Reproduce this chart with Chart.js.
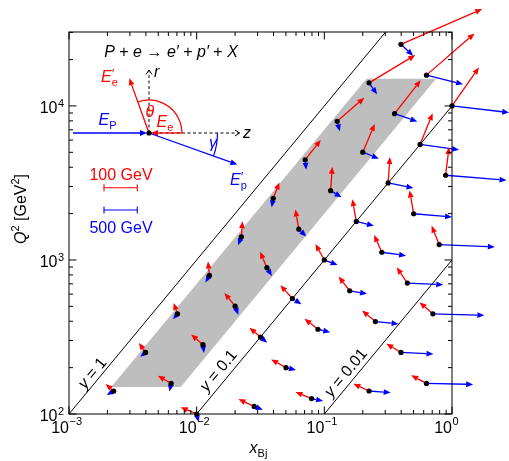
<!DOCTYPE html>
<html>
<head>
<meta charset="utf-8">
<script src="https://cdn.jsdelivr.net/npm/chart.js@4.4.0/dist/chart.umd.min.js"></script>
<style>
  html, body { margin: 0; padding: 0; background: #fff; }
  #plot { display: block; }
</style>
</head>
<body>
<canvas id="plot" width="509" height="461"></canvas>
<script>
// kinematic points, one row per line of constant y
const xBj = [
  0.00224, 0.00398, 0.00708, 0.0126, 0.0224, 0.0398, 0.0708, 0.126, 0.224, 0.398,
  0.00631, 0.0112, 0.0200, 0.0355, 0.0631, 0.112, 0.200, 0.355, 0.631,
  0.0100, 0.0316, 0.0562, 0.100, 0.178, 0.316, 0.562, 1.00,
  0.0282, 0.0501, 0.0891, 0.158, 0.282, 0.501, 0.891,
  0.0794, 0.251, 0.447, 0.794,
  0.224, 0.398, 0.708,
  0.631
];
const q2 = [
  141, 251, 447, 794, 1413, 2512, 4467, 7943, 14125, 25119,
  158, 282, 501, 891, 1585, 2818, 5012, 8913, 15849,
  100, 316, 562, 1000, 1778, 3162, 5623, 10000,
  112, 200, 355, 631, 1122, 1995, 3548,
  126, 398, 708, 1259,
  141, 251, 447,
  158
];
// scattered electron: energy [GeV], angle theta to +z [deg]
const eEnergy = [
  32, 35, 35, 42, 47, 51, 76, 108, 162, 266,
  46, 47, 51, 52, 60, 72, 92, 127, 191,
  52, 43, 54, 55, 68, 78, 101, 141,
  52, 51, 51, 54, 57, 71, 85,
  52, 52, 57, 61,
  52, 51, 53,
  52
];
const eTheta = [
  139, 125, 110, 96, 86, 69, 52, 41, 31, 23.5,
  150, 139, 129, 113, 100, 86, 67, 52, 41,
  157, 140, 132, 119, 100, 86, 68, 55,
  155, 151, 142, 128, 114, 100, 83,
  158, 140, 124, 112,
  155, 149, 139,
  152
];
// scattered proton side: energy [GeV], angle gamma below +z [deg]
const pEnergy = [
  121, 102, 107, 121, 136, 137, 151, 155, 211, 251,
  126, 125, 137, 145, 158, 192, 260, 361, 566,
  124, 133, 160, 213, 272, 387, 590, 865,
  140, 154, 190, 265, 368, 578, 918,
  178, 351, 540, 836,
  326, 490, 774,
  701
];
const pGamma = [
  150, 141, 129, 120, 112, 100, 84, 75, 55, 43,
  102, 83, 69, 59, 45, 31, 22, 19, 14,
  76, 41, 32, 21, 14, 11, 7.7, 6.6,
  21, 13.5, 13.7, 9.8, 8, 4.9, 4.7,
  11.7, 5.6, 2.7, 2.4,
  4.2, 2.8, 1.6,
  1.2
];

// lines of constant inelasticity y (Q2 = s x y, s = 1e5 GeV2)
const yValues = ['1', '0.1', '0.01'];
const yLineX = [[0.001, 1], [0.01, 1], [0.1, 1]];
const yLineQ2 = [[100, 1e5], [100, 1e4], [100, 1e3]];

// grey acceptance band
const bandX = [0.00214, 0.0075, 0.75, 0.214];
const bandQ2 = [150, 150, 15000, 15000];

const xTicks = [1e-3, 1e-2, 1e-1, 1];
const yTicks = [1e2, 1e3, 1e4];

const FAM = '"Liberation Sans", Arial, sans-serif';
const NORM = '16px ' + FAM;
const ITAL = 'italic 16px ' + FAM;
const SMALL = '11px ' + FAM;
const RED = '#ff0000';
const BLUE = '#0000ff';
const ePx = 33.3 / 100;   // px per GeV, electron arrows
const pPx = 33.3 / 500;   // px per GeV, proton arrows

function arrow(ctx, x0, y0, x1, y1, color) {
  const a = Math.atan2(y1 - y0, x1 - x0);
  const len = Math.hypot(x1 - x0, y1 - y0);
  const hl = Math.min(7, len), hw = 2.9;
  const bx = x1 - hl * Math.cos(a), by = y1 - hl * Math.sin(a);
  ctx.strokeStyle = color;
  ctx.fillStyle = color;
  ctx.lineWidth = 1.3;
  ctx.beginPath();
  ctx.moveTo(x0, y0);
  ctx.lineTo(bx, by);
  ctx.stroke();
  ctx.beginPath();
  ctx.moveTo(x1, y1);
  ctx.lineTo(bx + hw * Math.sin(a), by - hw * Math.cos(a));
  ctx.lineTo(bx - hw * Math.sin(a), by + hw * Math.cos(a));
  ctx.closePath();
  ctx.fill();
}

function rich(ctx, segs, x, y, align) {
  let w = 0;
  segs.forEach(s => { ctx.font = s.f; s.w = ctx.measureText(s.t).width; w += s.w; });
  let cx = align === 'center' ? x - w / 2 : align === 'right' ? x - w : x;
  ctx.textAlign = 'left';
  ctx.textBaseline = 'alphabetic';
  segs.forEach(s => {
    ctx.font = s.f;
    ctx.fillStyle = s.c || '#000';
    ctx.fillText(s.t, cx, y + (s.dy || 0));
    cx += s.w;
  });
}

// E with optional prime and a subscript
function eSym(ctx, x, y, sub, primed, color) {
  ctx.textAlign = 'left';
  ctx.textBaseline = 'alphabetic';
  ctx.fillStyle = color;
  ctx.font = ITAL;
  ctx.fillText('E', x, y);
  const w = ctx.measureText('E').width;
  if (primed) {
    ctx.font = 'italic 13px ' + FAM;
    ctx.fillText('\u2032', x + w - 0.5, y - 4);
  }
  ctx.font = SMALL;
  ctx.fillText(sub, x + w, y + 4);
}

function dashedAxis(ctx, x0, y0, x1, y1) {
  const a = Math.atan2(y1 - y0, x1 - x0);
  ctx.strokeStyle = '#000';
  ctx.lineWidth = 1;
  ctx.setLineDash([3, 2.5]);
  ctx.beginPath();
  ctx.moveTo(x0, y0);
  ctx.lineTo(x1, y1);
  ctx.stroke();
  ctx.setLineDash([]);
  ctx.beginPath();
  ctx.moveTo(x1 - 4.5 * Math.cos(a) + 3 * Math.sin(a), y1 - 4.5 * Math.sin(a) - 3 * Math.cos(a));
  ctx.lineTo(x1, y1);
  ctx.lineTo(x1 - 4.5 * Math.cos(a) - 3 * Math.sin(a), y1 - 4.5 * Math.sin(a) + 3 * Math.cos(a));
  ctx.stroke();
}

const kinePlugin = {
  id: 'kine',
  beforeDatasetsDraw(chart) {
    const { ctx, scales: { x, y } } = chart;
    ctx.save();
    ctx.fillStyle = '#bebebe';
    ctx.beginPath();
    bandX.forEach((v, i) => {
      const px = x.getPixelForValue(v), py = y.getPixelForValue(bandQ2[i]);
      if (i === 0) ctx.moveTo(px, py); else ctx.lineTo(px, py);
    });
    ctx.closePath();
    ctx.fill();
    ctx.restore();
  },
  beforeDatasetDraw(chart, args) {
    if (args.index !== 3) return;
    const { ctx, scales: { x, y } } = chart;
    ctx.save();
    xBj.forEach((v, i) => {
      const px = x.getPixelForValue(v), py = y.getPixelForValue(q2[i]);
      const gl = pEnergy[i] * pPx, ga = pGamma[i] * Math.PI / 180;
      arrow(ctx, px, py, px + gl * Math.cos(ga), py + gl * Math.sin(ga), BLUE);
      const el = eEnergy[i] * ePx, ea = eTheta[i] * Math.PI / 180;
      arrow(ctx, px, py, px + el * Math.cos(ea), py - el * Math.sin(ea), RED);
    });
    ctx.restore();
  },
  afterDraw(chart) {
    const { ctx, chartArea: a, scales: { x, y } } = chart;
    ctx.save();

    // frame with inward ticks
    ctx.strokeStyle = '#000';
    ctx.lineWidth = 1;
    ctx.strokeRect(a.left, a.top, a.right - a.left, a.bottom - a.top);
    ctx.beginPath();
    for (let d = -3; d <= 0; d++) {
      for (let m = 1; m <= 9; m++) {
        const v = m * Math.pow(10, d);
        if (v > 1.0001) break;
        const px = x.getPixelForValue(v), len = m === 1 ? 7.5 : 4;
        ctx.moveTo(px, a.bottom); ctx.lineTo(px, a.bottom - len);
        ctx.moveTo(px, a.top); ctx.lineTo(px, a.top + len);
      }
    }
    for (let d = 2; d <= 4; d++) {
      for (let m = 1; m <= 9; m++) {
        const v = m * Math.pow(10, d);
        if (v > y.max) break;
        const py = y.getPixelForValue(v), len = m === 1 ? 7.5 : 4;
        ctx.moveTo(a.left, py); ctx.lineTo(a.left + len, py);
        ctx.moveTo(a.right, py); ctx.lineTo(a.right - len, py);
      }
    }
    ctx.stroke();

    // tick labels 10^n
    ctx.fillStyle = '#000';
    ctx.textBaseline = 'alphabetic';
    xTicks.forEach(v => {
      const px = x.getPixelForValue(v);
      const e = String(Math.round(Math.log10(v))).replace('-', '\u2212');
      ctx.font = NORM; ctx.textAlign = 'right';
      ctx.fillText('10', px, a.bottom + 19);
      ctx.font = SMALL; ctx.textAlign = 'left';
      ctx.fillText(e, px + 0.5, a.bottom + 11);
    });
    yTicks.forEach(v => {
      const py = y.getPixelForValue(v);
      const e = String(Math.round(Math.log10(v)));
      ctx.font = NORM; ctx.textAlign = 'right';
      ctx.fillText('10', a.left - 11.5, py + 7);
      ctx.font = SMALL; ctx.textAlign = 'left';
      ctx.fillText(e, a.left - 11, py + 1);
    });

    // axis titles
    rich(ctx, [{ t: 'x', f: ITAL }, { t: 'Bj', f: SMALL, dy: 4 }], (a.left + a.right) / 2 - 2, a.bottom + 39, 'center');
    ctx.save();
    ctx.translate(26, 209);
    ctx.rotate(-Math.PI / 2);
    rich(ctx, [
      { t: 'Q', f: ITAL }, { t: '2', f: SMALL, dy: -7 },
      { t: ' [GeV', f: NORM }, { t: '2', f: SMALL, dy: -7 }, { t: ']', f: NORM }
    ], 0, 0, 'center');
    ctx.restore();

    // y = const labels along the lines
    const lblAt = [[0.0015, 186], [0.0146, 193], [0.145, 187]];
    yValues.forEach((t, i) => {
      const x0 = x.getPixelForValue(yLineX[i][0]), y0 = y.getPixelForValue(yLineQ2[i][0]);
      const x1 = x.getPixelForValue(yLineX[i][1]), y1 = y.getPixelForValue(yLineQ2[i][1]);
      const ang = Math.atan2(y1 - y0, x1 - x0);
      ctx.save();
      ctx.translate(x.getPixelForValue(lblAt[i][0]), y.getPixelForValue(lblAt[i][1]));
      ctx.rotate(ang);
      rich(ctx, [{ t: 'y', f: ITAL }, { t: ' = ' + t, f: NORM }], 0, 6, 'center');
      ctx.restore();
    });

    // reaction and kinematics sketch
    rich(ctx, [
      { t: 'P', f: ITAL }, { t: ' + ', f: NORM }, { t: 'e', f: ITAL }, { t: ' \u2192 ', f: NORM },
      { t: 'e\u2032', f: ITAL }, { t: ' + ', f: NORM }, { t: 'p\u2032', f: ITAL }, { t: ' + ', f: NORM },
      { t: 'X', f: ITAL }
    ], 171, 57, 'center');

    const ox = 149, oy = 133;
    dashedAxis(ctx, ox, oy, 239.5, oy);
    dashedAxis(ctx, ox, oy, ox, 70);
    arrow(ctx, 73, oy, ox - 2, oy, BLUE);
    arrow(ctx, 182, oy, ox + 2, oy, RED);
    arrow(ctx, ox, oy, 129.3, 78.3, RED);
    arrow(ctx, ox, oy, 237.3, 164.5, BLUE);
    ctx.lineWidth = 1.2;
    ctx.strokeStyle = RED;
    ctx.beginPath();
    ctx.arc(ox, oy, 33, -110 * Math.PI / 180, 0);
    ctx.stroke();
    ctx.strokeStyle = BLUE;
    ctx.beginPath();
    ctx.arc(ox, oy, 68.5, 0, 19.7 * Math.PI / 180);
    ctx.stroke();
    ctx.fillStyle = '#000';
    ctx.beginPath();
    ctx.arc(ox, oy, 2.6, 0, 2 * Math.PI);
    ctx.fill();

    ctx.textAlign = 'left';
    ctx.font = ITAL;
    ctx.fillStyle = '#000';
    ctx.fillText('r', 154, 77);
    ctx.fillText('z', 243, 137.5);
    ctx.fillStyle = RED;
    ctx.fillText('\u03b8', 145.5, 116.5);
    ctx.fillStyle = BLUE;
    ctx.fillText('\u03b3', 209, 148);
    eSym(ctx, 101, 82, 'e', true, RED);
    eSym(ctx, 156.5, 126.5, 'e', false, RED);
    eSym(ctx, 98.5, 125, 'P', false, BLUE);
    eSym(ctx, 230, 185, 'p', true, BLUE);

    // energy scale bars
    const bars = [[RED, '100 GeV', 187.7, 180], [BLUE, '500 GeV', 210, 233]];
    bars.forEach(([c, t, by, ty]) => {
      ctx.strokeStyle = c;
      ctx.lineWidth = 1.1;
      ctx.beginPath();
      ctx.moveTo(104, by); ctx.lineTo(137.3, by);
      ctx.moveTo(104, by - 3.5); ctx.lineTo(104, by + 3.5);
      ctx.moveTo(137.3, by - 3.5); ctx.lineTo(137.3, by + 3.5);
      ctx.stroke();
      ctx.fillStyle = c;
      ctx.font = NORM;
      ctx.textAlign = 'center';
      ctx.fillText(t, 121, ty);
    });
    ctx.restore();
  }
};

const lineSets = yValues.map((t, i) => ({
  label: 'y = ' + t,
  data: yLineX[i].map((v, j) => ({ x: v, y: yLineQ2[i][j] })),
  showLine: true,
  borderColor: '#000',
  borderWidth: 1,
  pointRadius: 0
}));

new Chart(document.getElementById('plot'), {
  type: 'scatter',
  data: {
    datasets: [...lineSets, {
      label: 'points',
      data: xBj.map((v, i) => ({ x: v, y: q2[i] })),
      pointRadius: 2.6,
      pointBackgroundColor: '#000',
      pointBorderWidth: 0,
      clip: false
    }]
  },
  options: {
    responsive: false,
    animation: false,
    layout: { padding: { left: 69, right: 57, top: 32, bottom: 47 } },
    plugins: { legend: { display: false }, tooltip: { enabled: false } },
    scales: {
      x: { type: 'logarithmic', min: 1e-3, max: 1, display: false },
      y: { type: 'logarithmic', min: 100, max: 30200, display: false }
    }
  },
  plugins: [kinePlugin]
});
</script>
</body>
</html>
